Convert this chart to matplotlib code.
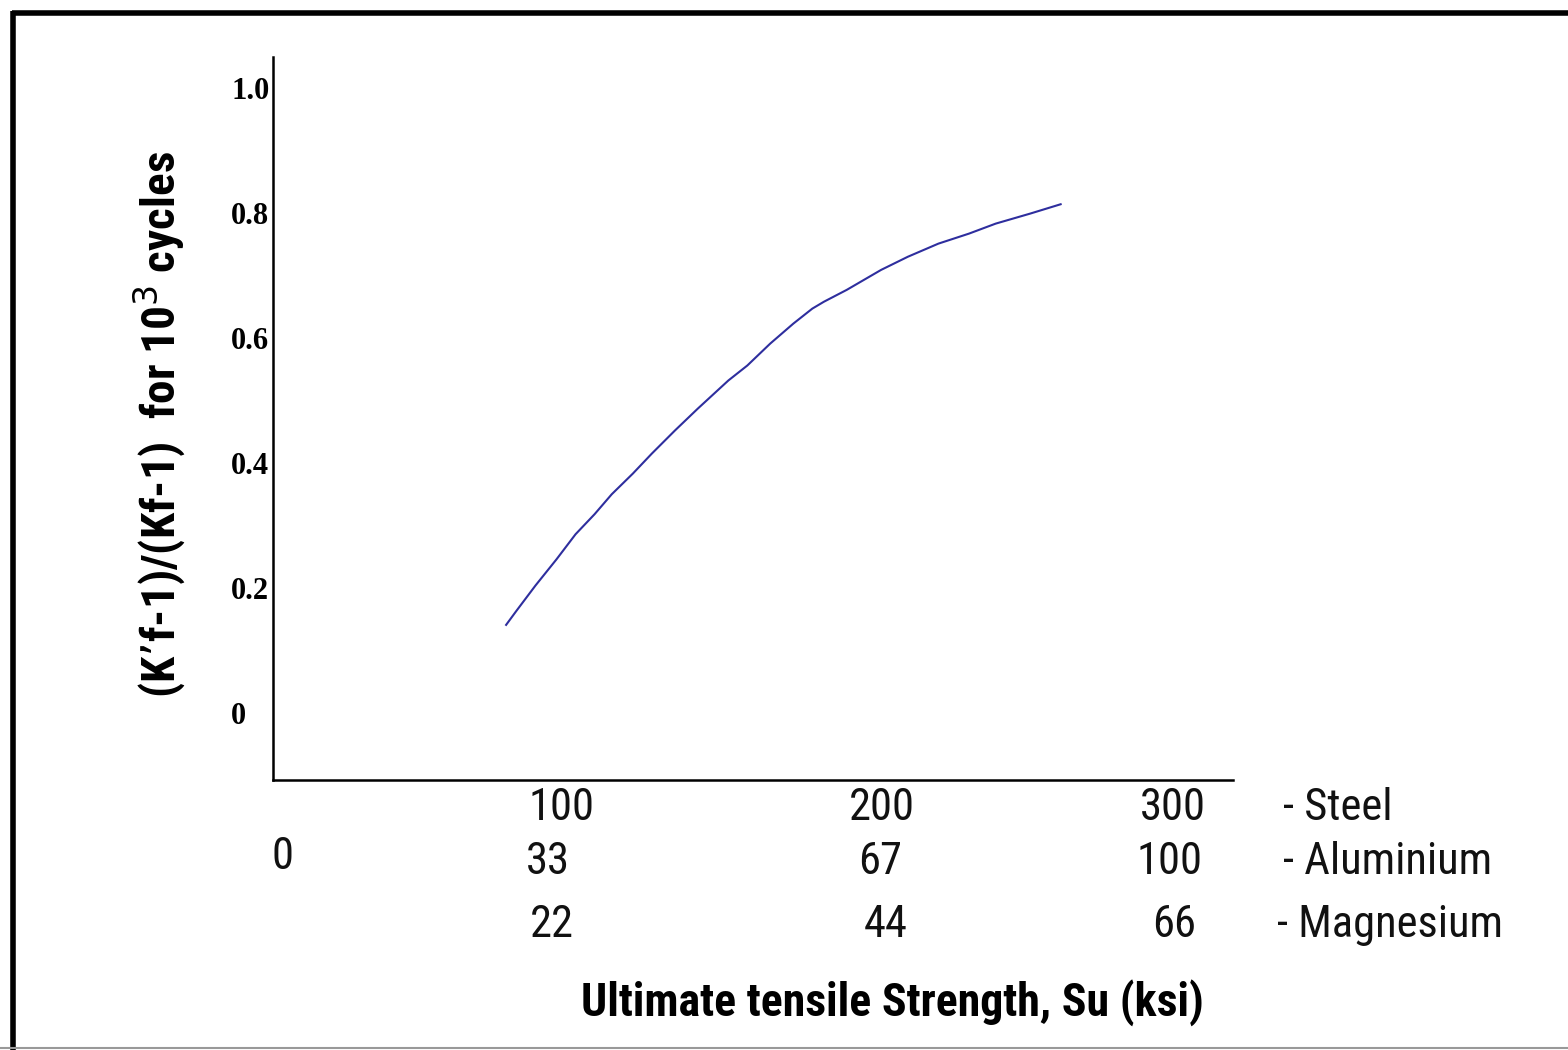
import matplotlib
matplotlib.use("Agg")
import matplotlib.pyplot as plt
from matplotlib.lines import Line2D

# ---- data ----
su_steel = [75.2, 78.6, 85.1, 92.2, 98.6, 105.0, 110.8, 117.9, 124.3, 132.1,
            139.8, 150.1, 156.5, 164.2, 172.0, 178.4, 182.3, 190.0, 201.6,
            210.6, 220.9, 231.2, 240.2, 251.8, 262.1]
ratio = [0.141, 0.163, 0.204, 0.246, 0.286, 0.318, 0.350, 0.383, 0.415, 0.452,
         0.487, 0.532, 0.556, 0.591, 0.623, 0.647, 0.658, 0.677, 0.709,
         0.730, 0.751, 0.767, 0.783, 0.799, 0.814]

y_ticks = [0, 0.2, 0.4, 0.6, 0.8, 1.0]
y_tick_labels = ["0", "0.2", "0.4", "0.6", "0.8", "1.0"]

materials = ["- Steel", "- Aluminium", "- Magnesium"]
steel_labels = ["100", "200", "300"]
alu_labels = ["33", "67", "100"]
mag_labels = ["22", "44", "66"]
zero_label = "0"

W, H = 1568, 1050
fig = plt.figure(figsize=(W / 100, H / 100), dpi=100)
fig.patch.set_facecolor("white")

def fx(px):
    return px / W

def fy(py):
    return 1 - py / H

narrow = ["Liberation Sans Narrow", "Roboto Condensed", "Liberation Sans", "DejaVu Sans"]
serif = ["Liberation Serif", "DejaVu Serif"]

# axes: left spine at 273px, bottom at 780px, top 57px, right end 1233px
ax = fig.add_axes([fx(273), fy(780), (1233 - 273) / W, (780 - 57) / H])
k = 2.967  # px per ksi, 0 ksi at 283 px
ax.set_xlim((273 - 283) / k, (1233 - 283) / k)
ax.set_ylim((713 - 780) / 625, (713 - 57) / 625)

ax.plot(su_steel, ratio, color="#2e2e9e", lw=1.5, solid_joinstyle="round")

for s in ["top", "right"]:
    ax.spines[s].set_visible(False)
for s in ["left", "bottom"]:
    ax.spines[s].set_linewidth(1.8)
    ax.spines[s].set_color("black")

ax.set_xticks([])
ax.set_yticks(y_ticks)
ax.set_yticklabels(y_tick_labels, fontfamily=serif, fontweight="bold", fontsize=22)
ax.tick_params(axis="y", length=0, pad=30)
for lab in ax.get_yticklabels():
    lab.set_horizontalalignment("left")

# y label
fig.text(fx(160), fy(425), "(K’f-1)/(Kf-1)  for 10$^3$ cycles", rotation=90,
         ha="center", va="center", fontsize=34, fontweight="bold", fontfamily=narrow)

rows = [(steel_labels, 808, [561, 882, 1173]),
        (alu_labels, 862, [548, 880, 1170]),
        (mag_labels, 925, [552, 886, 1174])]
for labels, ypx, xs in rows:
    for lab, xp in zip(labels, xs):
        fig.text(fx(xp), fy(ypx), lab, ha="center", va="center",
                 fontsize=32, fontfamily=narrow, color="#111111")
fig.text(fx(283), fy(857), zero_label, ha="center", va="center",
         fontsize=32, fontfamily=narrow, color="#111111")

mat_pos = [(1283, 808), (1283, 862), (1277, 925)]
for name, (xp, ypx) in zip(materials, mat_pos):
    fig.text(fx(xp), fy(ypx), name, ha="left", va="center",
             fontsize=32, fontfamily=narrow, color="#111111")

fig.text(fx(892), fy(1003), "Ultimate tensile Strength, Su (ksi)", ha="center",
         va="center", fontsize=33, fontweight="bold", fontfamily=narrow)

# outer frame (top & left thick, bottom thin grey)
fig.add_artist(Line2D([fx(12), 1], [fy(12.5), fy(12.5)], color="black", lw=4,
                      transform=fig.transFigure, solid_capstyle="butt"))
fig.add_artist(Line2D([fx(12.5), fx(12.5)], [fy(10.5), 0], color="black", lw=4,
                      transform=fig.transFigure, solid_capstyle="butt"))
fig.add_artist(Line2D([0, 1], [fy(1048), fy(1048)], color="#999999", lw=1.5,
                      transform=fig.transFigure))

fig.savefig("out.png", dpi=100, facecolor="white")
